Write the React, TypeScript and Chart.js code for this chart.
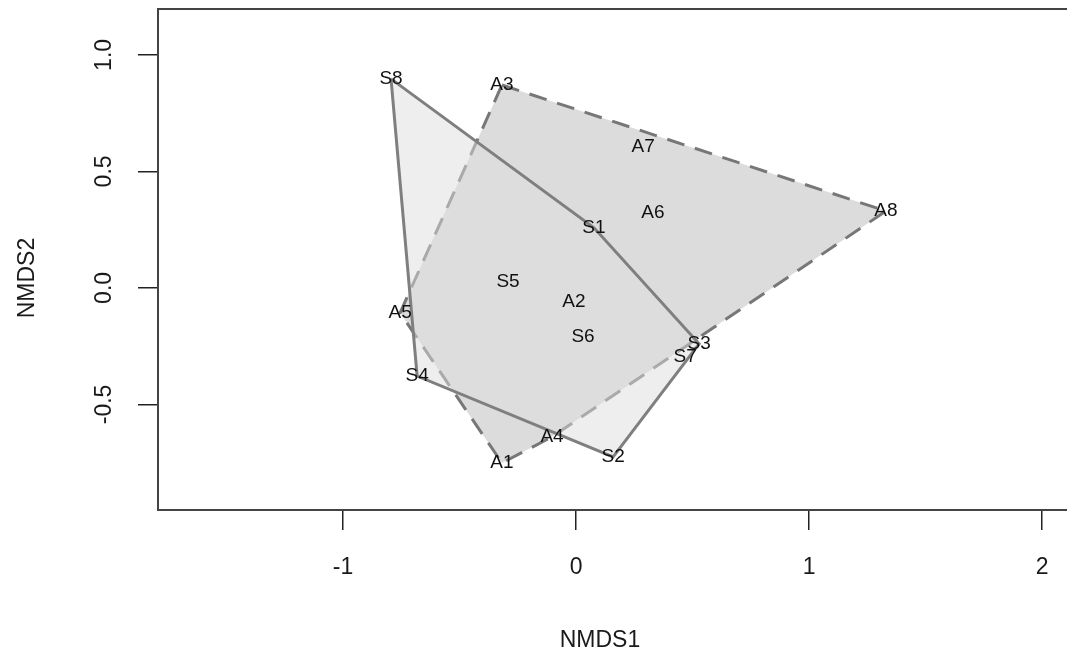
import React, { useEffect, useRef } from "react";
import { Chart, registerables } from "chart.js";

Chart.register(...registerables);

// ---- Data (NMDS scores) ----
const sLabels = ["S1", "S2", "S3", "S4", "S5", "S6", "S7", "S8"];
const sX = [0.077, 0.159, 0.528, -0.682, -0.292, 0.03, 0.468, -0.794];
const sY = [0.258, -0.725, -0.24, -0.378, 0.026, -0.21, -0.296, 0.897];

const aLabels = ["A1", "A2", "A3", "A4", "A5", "A6", "A7", "A8"];
const aX = [-0.318, -0.009, -0.318, -0.103, -0.755, 0.33, 0.288, 1.33];
const aY = [-0.751, -0.06, 0.871, -0.639, -0.107, 0.322, 0.605, 0.33];

// convex hull vertex order for each group
const sHull = ["S8", "S1", "S3", "S2", "S4"];
const aHull = ["A3", "A8", "A4", "A1", "A5"];

// axes
const xTickValues = [-1, 0, 1, 2];
const xTickLabels = ["-1", "0", "1", "2"];
const yTickValues = [-0.5, 0, 0.5, 1];
const yTickLabels = ["-0.5", "0.0", "0.5", "1.0"];
const xRange = [-1.794, 2.094];
const yRange = [-0.953, 1.197];
const xTitle = "NMDS1";
const yTitle = "NMDS2";

const FONT = '"Liberation Sans", Arial, sans-serif';

function hullPoints(order: string[], labels: string[], xs: number[], ys: number[]) {
  const pts = order.map((n) => {
    const i = labels.indexOf(n);
    return { x: xs[i], y: ys[i] };
  });
  pts.push({ ...pts[0] });
  return pts;
}

function labelPoints(labels: string[], xs: number[], ys: number[]) {
  return labels.map((l, i) => ({ x: xs[i], y: ys[i], label: l }));
}

const decorPlugin = {
  id: "decor",
  afterDatasetsDraw(chart: any) {
    const ctx = chart.ctx;
    ctx.save();
    ctx.fillStyle = "#111";
    ctx.font = `19px ${FONT}`;
    ctx.textAlign = "center";
    ctx.textBaseline = "middle";
    chart.data.datasets.forEach((ds: any, di: number) => {
      if (!ds.isLabels) return;
      const meta = chart.getDatasetMeta(di);
      meta.data.forEach((el: any, i: number) => {
        ctx.fillText(ds.data[i].label, el.x, el.y);
      });
    });
    ctx.restore();
  },
  afterDraw(chart: any) {
    const ctx = chart.ctx;
    const { left, top, bottom } = chart.chartArea;
    const W = chart.width;
    const xs = chart.scales.x;
    const ys = chart.scales.y;
    ctx.save();
    // box (right side runs off the picture)
    ctx.strokeStyle = "#444";
    ctx.lineWidth = 2;
    ctx.beginPath();
    ctx.moveTo(W, top);
    ctx.lineTo(left, top);
    ctx.lineTo(left, bottom);
    ctx.lineTo(W, bottom);
    ctx.stroke();
    // tick labels
    ctx.fillStyle = "#1a1a1a";
    ctx.font = `23px ${FONT}`;
    ctx.textAlign = "center";
    ctx.textBaseline = "middle";
    xTickValues.forEach((v, i) => {
      ctx.fillText(xTickLabels[i], xs.getPixelForValue(v), 568);
    });
    yTickValues.forEach((v, i) => {
      ctx.save();
      ctx.translate(105, ys.getPixelForValue(v));
      ctx.rotate(-Math.PI / 2);
      ctx.fillText(yTickLabels[i], 0, 0);
      ctx.restore();
    });
    // axis titles
    ctx.fillText(xTitle, 600, 641);
    ctx.save();
    ctx.translate(28, 278);
    ctx.rotate(-Math.PI / 2);
    ctx.fillText(yTitle, 0, 0);
    ctx.restore();
    ctx.restore();
  },
};

export default function App() {
  const ref = useRef<HTMLCanvasElement | null>(null);
  useEffect(() => {
    if (!ref.current) return;
    const chart = new Chart(ref.current, {
      type: "scatter",
      data: {
        datasets: [
          {
            label: "S hull",
            data: hullPoints(sHull, sLabels, sX, sY),
            showLine: true,
            fill: "shape",
            backgroundColor: "rgba(222,222,222,0.5)",
            borderColor: "#7f7f7f",
            borderWidth: 3,
            pointRadius: 0,
            tension: 0,
          } as any,
          {
            label: "A hull",
            data: hullPoints(aHull, aLabels, aX, aY),
            showLine: true,
            fill: "shape",
            backgroundColor: "#dcdcdc",
            borderColor: "#777777",
            borderWidth: 3,
            borderDash: [18, 11],
            pointRadius: 0,
            tension: 0,
          } as any,
          {
            label: "S points",
            data: labelPoints(sLabels, sX, sY),
            isLabels: true,
            pointRadius: 0,
            showLine: false,
          } as any,
          {
            label: "A points",
            data: labelPoints(aLabels, aX, aY),
            isLabels: true,
            pointRadius: 0,
            showLine: false,
          } as any,
        ],
      },
      options: {
        responsive: false,
        animation: false,
        events: [],
        layout: { padding: { left: 0, top: 9, right: 3, bottom: 0 } },
        plugins: {
          legend: { display: false },
          tooltip: { enabled: false },
          title: { display: false },
        },
        scales: {
          x: {
            type: "linear",
            position: "bottom",
            min: xRange[0],
            max: xRange[1],
            afterBuildTicks: (s: any) => {
              s.ticks = xTickValues.map((v) => ({ value: v }));
            },
            afterFit: (s: any) => {
              s.height = 149;
            },
            ticks: { display: false },
            grid: {
              display: true,
              drawOnChartArea: false,
              drawTicks: true,
              tickLength: 20,
              color: "#222",
              lineWidth: 1.5,
            },
            border: { display: true, color: "#444", width: 2 },
          },
          y: {
            type: "linear",
            position: "left",
            min: yRange[0],
            max: yRange[1],
            afterBuildTicks: (s: any) => {
              s.ticks = yTickValues.map((v) => ({ value: v }));
            },
            afterFit: (s: any) => {
              s.width = 158;
            },
            ticks: { display: false },
            grid: {
              display: true,
              drawOnChartArea: false,
              drawTicks: true,
              tickLength: 20,
              color: "#222",
              lineWidth: 1.5,
            },
            border: { display: true, color: "#444", width: 2 },
          },
        },
      } as any,
      plugins: [decorPlugin],
    });
    return () => chart.destroy();
  }, []);
  return (
    <div
      style={{
        position: "fixed",
        left: 0,
        top: 0,
        width: 1067,
        height: 659,
        background: "#fff",
      }}
    >
      <canvas ref={ref} width={1067} height={659} style={{ display: "block" }} />
    </div>
  );
}
